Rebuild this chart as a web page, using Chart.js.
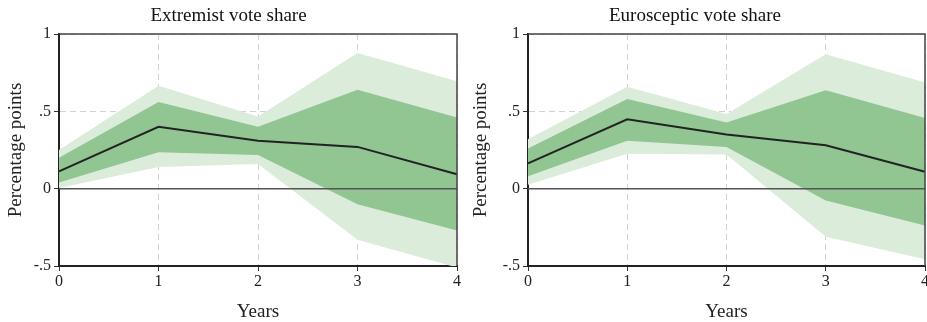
<!DOCTYPE html>
<html>
<head>
<meta charset="utf-8">
<script src="https://cdn.jsdelivr.net/npm/chart.js@4"></script>
<style>
  body { margin: 0; background: #fff; }
  canvas { position: absolute; top: 0; }
  #extremist { left: 0; }
  #euroscep { left: 465px; }
</style>
</head>
<body>
<canvas id="extremist" width="465" height="322"></canvas>
<canvas id="euroscep" width="462" height="322"></canvas>
<script>
// data
const years = ['0', '1', '2', '3', '4'];
const yTickLabels = { '-0.5': '-.5', '0': '0', '0.5': '.5', '1': '1' };

const extEstimate = [0.112, 0.40, 0.31, 0.27, 0.093];
const extInnerHi = [0.20, 0.56, 0.40, 0.64, 0.46];
const extInnerLo = [0.04, 0.235, 0.218, -0.10, -0.27];
const extOuterHi = [0.25, 0.665, 0.466, 0.877, 0.695];
const extOuterLo = [0.005, 0.14, 0.16, -0.33, -0.51];

const euroEstimate = [0.163, 0.448, 0.35, 0.281, 0.109];
const euroInnerHi = [0.26, 0.58, 0.427, 0.637, 0.457];
const euroInnerLo = [0.08, 0.31, 0.27, -0.077, -0.238];
const euroOuterHi = [0.32, 0.659, 0.483, 0.869, 0.687];
const euroOuterLo = [0.026, 0.225, 0.221, -0.311, -0.457];

const zeroLine = [0, 0, 0, 0, 0];

const darkGreen = 'rgb(145,197,145)';
const lightGreen = 'rgb(219,236,219)';
const serif = "'Liberation Serif', 'DejaVu Serif', serif";

// top and right edges of the plot box
const frame = {
  id: 'frame',
  afterDraw(chart) {
    const a = chart.chartArea, c = chart.ctx;
    c.save();
    c.strokeStyle = '#444';
    c.lineWidth = 1.5;
    c.beginPath();
    c.moveTo(a.left, a.top);
    c.lineTo(a.right, a.top);
    c.lineTo(a.right, a.bottom);
    c.stroke();
    c.restore();
  }
};

function band(data, color, fill) {
  return {
    data: data,
    borderWidth: 0,
    pointRadius: 0,
    backgroundColor: color,
    fill: fill
  };
}

function makeChart(id, title, est, innerHi, innerLo, outerHi, outerLo, yWidth, rightPad) {
  new Chart(document.getElementById(id), {
    type: 'line',
    data: {
      labels: years,
      datasets: [
        { data: est, borderColor: '#222', borderWidth: 2, pointRadius: 0, fill: false },
        { data: zeroLine, borderColor: '#555', borderWidth: 1.5, pointRadius: 0, fill: false },
        band(innerHi, darkGreen, '+1'),
        band(innerLo, darkGreen, false),
        band(outerHi, lightGreen, '+1'),
        band(outerLo, lightGreen, false)
      ]
    },
    options: {
      responsive: false,
      animation: false,
      layout: { padding: { top: 0, right: rightPad, bottom: 0, left: 0 } },
      plugins: {
        legend: { display: false },
        tooltip: { enabled: false },
        title: {
          display: true,
          text: title,
          color: '#111',
          font: { family: serif, size: 19, weight: 'normal', lineHeight: 1 },
          padding: { top: 7, bottom: 8 }
        }
      },
      scales: {
        x: {
          grid: {
            color: '#d2d2d2',
            tickColor: '#333',
            tickLength: 5
          },
          border: { color: '#222', width: 2, dash: [6, 4] },
          ticks: {
            color: '#222',
            padding: 1,
            maxRotation: 0,
            font: { family: serif, size: 16 }
          },
          title: {
            display: true,
            text: 'Years',
            color: '#222',
            padding: { top: 0, bottom: 0 },
            font: { family: serif, size: 19, lineHeight: 1 }
          },
          afterFit(s) { s.height = 56; s.paddingRight = 0; }
        },
        y: {
          min: -0.5,
          max: 1,
          grid: {
            color: '#d2d2d2',
            tickColor: '#333',
            tickLength: 5
          },
          border: { color: '#222', width: 2, dash: [6, 4] },
          ticks: {
            stepSize: 0.5,
            color: '#222',
            padding: 3,
            font: { family: serif, size: 16 },
            callback: v => yTickLabels[String(v)]
          },
          title: {
            display: true,
            text: 'Percentage points',
            color: '#222',
            padding: { top: 5, bottom: 0 },
            font: { family: serif, size: 19 }
          },
          afterFit(s) { s.width = yWidth; }
        }
      }
    },
    plugins: [frame]
  });
}

makeChart('extremist', 'Extremist vote share',
  extEstimate, extInnerHi, extInnerLo, extOuterHi, extOuterLo, 59, 8);
makeChart('euroscep', 'Eurosceptic vote share',
  euroEstimate, euroInnerHi, euroInnerLo, euroOuterHi, euroOuterLo, 63, 2);
</script>
</body>
</html>
